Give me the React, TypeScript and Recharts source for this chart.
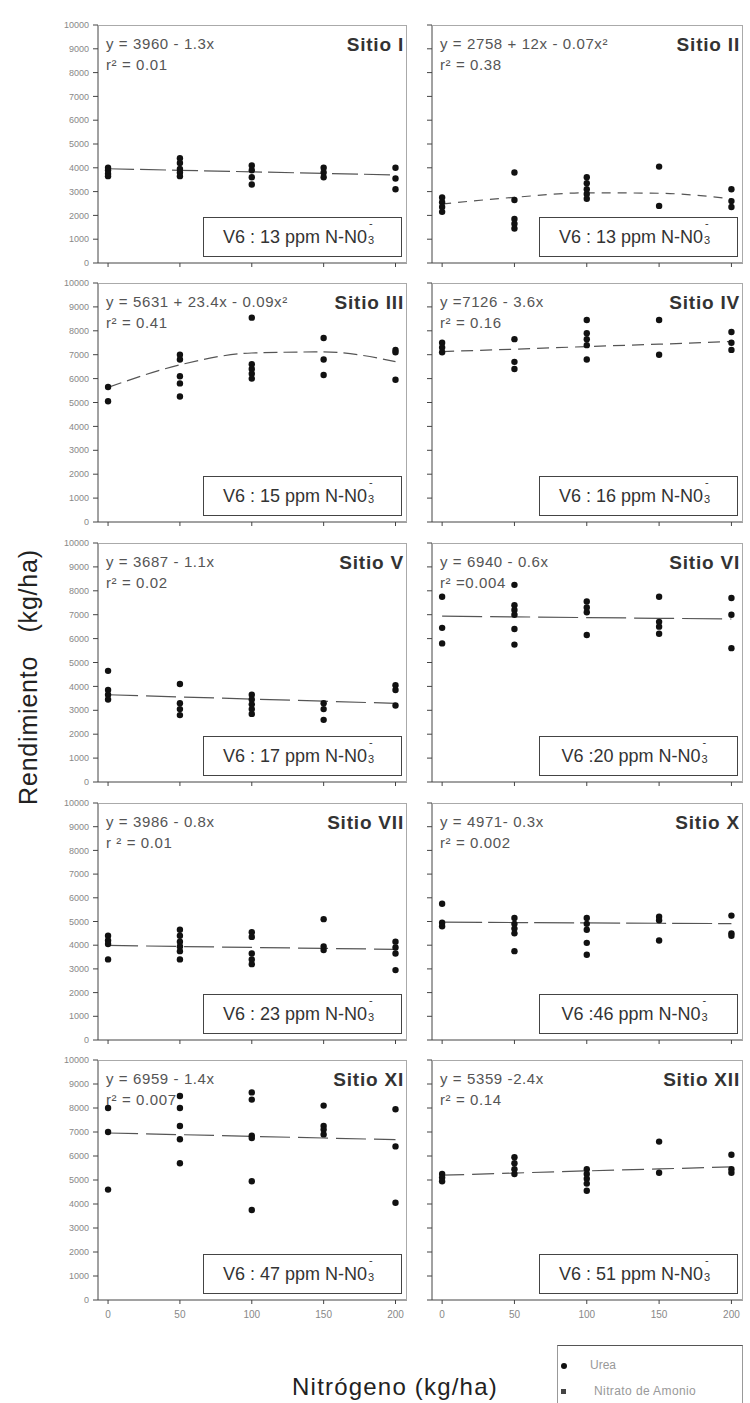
import React from 'react';
import { ComposedChart, Scatter, Line, XAxis, YAxis } from 'recharts';

const FONT = 'Arial, "Liberation Sans", Helvetica, sans-serif';

// N rates (kg/ha) and yield axis ticks
const doses = [0, 50, 100, 150, 200];
const yieldTicks = [0, 1000, 2000, 3000, 4000, 5000, 6000, 7000, 8000, 9000, 10000];

// Observed yields (kg/ha), one inner list per N rate
const sitioIYield = [
  [4000, 3900, 3750, 3650],
  [4400, 4200, 3950, 3800, 3650],
  [4100, 3900, 3600, 3300],
  [4000, 3800, 3600],
  [4000, 3550, 3100],
];
const sitioIIYield = [
  [2750, 2550, 2350, 2150],
  [3800, 2650, 1850, 1650, 1450],
  [3600, 3350, 3100, 2900, 2700],
  [4050, 2400],
  [3100, 2600, 2350],
];
const sitioIIIYield = [
  [5650, 5050],
  [7000, 6800, 6100, 5800, 5250],
  [8550, 6600, 6400, 6200, 6000],
  [7700, 6800, 6150],
  [7200, 7100, 5950],
];
const sitioIVYield = [
  [7500, 7300, 7100],
  [7650, 6700, 6400],
  [8450, 7900, 7650, 7400, 6800],
  [8450, 7000],
  [7950, 7500, 7200],
];
const sitioVYield = [
  [4650, 3850, 3650, 3450],
  [4100, 3300, 3050, 2800],
  [3650, 3450, 3250, 3050, 2850],
  [3300, 3050, 2600],
  [4050, 3850, 3200],
];
const sitioVIYield = [
  [7750, 6450, 5800],
  [8250, 7400, 7200, 7000, 6400, 5750],
  [7550, 7300, 7100, 6150],
  [7750, 6700, 6500, 6200],
  [7700, 7000, 5600],
];
const sitioVIIYield = [
  [4400, 4200, 4050, 3400],
  [4650, 4400, 4150, 3950, 3750, 3400],
  [4550, 4350, 3650, 3400, 3200],
  [5100, 3950, 3800],
  [4150, 3900, 3650, 2950],
];
const sitioXYield = [
  [5750, 4950, 4800],
  [5150, 4900, 4700, 4500, 3750],
  [5150, 4900, 4650, 4100, 3600],
  [5200, 5050, 4200],
  [5250, 4500, 4400],
];
const sitioXIYield = [
  [8000, 7000, 4600],
  [8500, 8000, 7250, 6700, 5700],
  [8650, 8350, 6850, 6750, 4950, 3750],
  [8100, 7250, 7100, 6900],
  [7950, 6400, 4050],
];
const sitioXIIYield = [
  [5250, 5100, 4950],
  [5950, 5700, 5450, 5250],
  [5450, 5250, 5050, 4850, 4550],
  [6600, 5300],
  [6050, 5450, 5300],
];

// Fitted response at each N rate
const sitioITrend = [3960, 3895, 3830, 3765, 3700];
const sitioIITrend = [2480, 2760, 2950, 2930, 2700];
const sitioIIITrend = [5631, 6576, 7071, 7116, 6711];
const sitioIVTrend = [7130, 7230, 7340, 7440, 7550];
const sitioVTrend = [3650, 3560, 3470, 3380, 3290];
const sitioVITrend = [6940, 6910, 6880, 6850, 6820];
const sitioVIITrend = [3990, 3945, 3905, 3865, 3825];
const sitioXTrend = [4971, 4956, 4941, 4926, 4911];
const sitioXITrend = [6959, 6889, 6819, 6749, 6679];
const sitioXIITrend = [5200, 5290, 5380, 5460, 5550];

const siteNames = ['Sitio I', 'Sitio II', 'Sitio III', 'Sitio IV', 'Sitio V', 'Sitio VI', 'Sitio VII', 'Sitio X', 'Sitio XI', 'Sitio XII'];
const equations = [
  'y = 3960 - 1.3x',
  'y = 2758 + 12x - 0.07x²',
  'y = 5631 + 23.4x - 0.09x²',
  'y =7126 - 3.6x',
  'y = 3687 - 1.1x',
  'y = 6940 - 0.6x',
  'y = 3986 - 0.8x',
  'y = 4971- 0.3x',
  'y = 6959 - 1.4x',
  'y = 5359 -2.4x',
];
const rSquared = ['r² = 0.01', 'r² = 0.38', 'r² = 0.41', 'r² = 0.16', 'r² = 0.02', 'r² =0.004', 'r ² = 0.01', 'r² = 0.002', 'r² = 0.007', 'r² = 0.14'];
const v6Labels = [
  'V6 : 13 ppm N-N0',
  'V6 : 13 ppm N-N0',
  'V6 : 15 ppm N-N0',
  'V6 : 16 ppm N-N0',
  'V6 : 17 ppm N-N0',
  'V6 :20 ppm N-N0',
  'V6 : 23 ppm N-N0',
  'V6 :46 ppm N-N0',
  'V6 : 47 ppm N-N0',
  'V6 : 51 ppm N-N0',
];

const yields = [sitioIYield, sitioIIYield, sitioIIIYield, sitioIVYield, sitioVYield, sitioVIYield, sitioVIIYield, sitioXYield, sitioXIYield, sitioXIIYield];
const trends = [sitioITrend, sitioIITrend, sitioIIITrend, sitioIVTrend, sitioVTrend, sitioVITrend, sitioVIITrend, sitioXTrend, sitioXITrend, sitioXIITrend];
const curved = [false, true, true, false, false, false, false, false, false, false];
const dashes = ['26 6', '9 7', '14 6', '12 7', '30 8', '40 8', '30 8', '40 6', '30 8', '22 8'];

// plot-area placement of the 2 x 5 grid
const COLS = [
  { left: 98, width: 309 },
  { left: 432, width: 311 },
];
const ROWS = [
  { top: 25, height: 238 },
  { top: 283, height: 239 },
  { top: 543, height: 239 },
  { top: 803, height: 237 },
  { top: 1060, height: 240 },
];
const YW = 50;
const MT = 6;
const MR = 4;

const Dot = (props: any) => <circle cx={props.cx} cy={props.cy} r={3.2} fill="#111" />;

// stacked "3" subscript and "-" superscript of the nitrate ion
const NitrateIon = () => (
  <span style={{ position: 'relative', display: 'inline-block', width: 9, height: 0 }}>
    <span style={{ position: 'absolute', left: 2, top: -19, fontSize: 11, lineHeight: 1 }}>-</span>
    <span style={{ position: 'absolute', left: 1, top: -2, fontSize: 11, lineHeight: 1 }}>3</span>
  </span>
);

function Panel({ idx }: { idx: number }) {
  const col = idx % 2;
  const row = Math.floor(idx / 2);
  const c = COLS[col];
  const r = ROWS[row];
  const bottom = row === 4;
  const xh = bottom ? 30 : 6;

  const points = doses.flatMap((d, i) => yields[idx][i].map((y) => ({ x: d, y })));
  const trend = doses.map((x, i) => ({ x, y: trends[idx][i] }));

  return (
    <>
      <div style={{ position: 'absolute', left: c.left - YW, top: r.top - MT }}>
        <ComposedChart
          width={YW + c.width + MR}
          height={MT + r.height + xh}
          margin={{ top: MT, right: MR, bottom: 0, left: 0 }}
        >
          <XAxis
            type="number"
            dataKey="x"
            domain={[-7, 208]}
            ticks={doses}
            allowDataOverflow
            height={xh}
            stroke="#444"
            tickSize={4}
            tickMargin={7}
            tick={{ fill: '#888', fontSize: 10, fontFamily: FONT }}
            tickFormatter={bottom ? undefined : () => ''}
          />
          <YAxis
            type="number"
            dataKey="y"
            domain={[0, 10000]}
            ticks={yieldTicks}
            interval={0}
            width={YW}
            stroke="#444"
            tickSize={5}
            tickMargin={4}
            tick={{ fill: '#888', fontSize: 9, fontFamily: FONT }}
            tickFormatter={col === 0 ? undefined : () => ''}
          />
          <Line
            data={trend}
            dataKey="y"
            type={curved[idx] ? 'monotone' : 'linear'}
            stroke="#555"
            strokeWidth={1.2}
            strokeDasharray={dashes[idx]}
            dot={false}
            isAnimationActive={false}
          />
          <Scatter data={points} shape={Dot} isAnimationActive={false} />
        </ComposedChart>
      </div>

      {/* light top/right frame */}
      <div
        style={{
          position: 'absolute',
          left: c.left,
          top: r.top,
          width: c.width,
          height: r.height,
          borderTop: '1px solid #aaa',
          borderRight: '1px solid #aaa',
          boxSizing: 'border-box',
          pointerEvents: 'none',
        }}
      />

      <div style={{ position: 'absolute', left: c.left + 8, top: r.top + 11, fontSize: 15, lineHeight: 1, color: '#555', whiteSpace: 'pre', letterSpacing: 0.6 }}>
        {equations[idx]}
      </div>
      <div style={{ position: 'absolute', left: c.left + 8, top: r.top + 32, fontSize: 15, lineHeight: 1, color: '#555', whiteSpace: 'pre', letterSpacing: 0.6 }}>
        {rSquared[idx]}
      </div>
      <div
        style={{
          position: 'absolute',
          right: 750 - (c.left + c.width - 3),
          top: r.top + 10,
          fontSize: 19,
          fontWeight: 'bold',
          lineHeight: 1,
          color: '#333',
          whiteSpace: 'pre',
          letterSpacing: 0.8,
        }}
      >
        {siteNames[idx]}
      </div>

      <div
        style={{
          position: 'absolute',
          left: c.left + c.width - 5 - 199,
          top: r.top + r.height - 6 - 40,
          width: 199,
          height: 40,
          border: '1.5px solid #444',
          boxSizing: 'border-box',
          display: 'flex',
          alignItems: 'center',
          justifyContent: 'center',
          fontSize: 18,
          color: '#333',
          whiteSpace: 'pre',
          paddingRight: 6,
        }}
      >
        {v6Labels[idx]}
        <NitrateIon />
      </div>
    </>
  );
}

export default function App() {
  return (
    <div
      style={{
        position: 'absolute',
        left: 0,
        top: 0,
        width: 750,
        height: 1403,
        background: '#fff',
        fontFamily: FONT,
        overflow: 'hidden',
      }}
    >
      {siteNames.map((_, i) => (
        <Panel key={i} idx={i} />
      ))}

      <div
        style={{
          position: 'absolute',
          left: 28,
          top: 677,
          transform: 'translate(-50%, -50%) rotate(-90deg)',
          fontSize: 25,
          color: '#222',
          whiteSpace: 'pre',
          letterSpacing: 0.8,
        }}
      >
        {'Rendimiento   (kg/ha)'}
      </div>

      <div
        style={{
          position: 'absolute',
          left: 395,
          top: 1387,
          transform: 'translate(-50%, -50%)',
          fontSize: 24,
          color: '#222',
          whiteSpace: 'pre',
          letterSpacing: 1.2,
        }}
      >
        Nitrógeno (kg/ha)
      </div>

      {/* legend */}
      <div
        style={{
          position: 'absolute',
          left: 557,
          top: 1345,
          width: 184,
          height: 70,
          borderTop: '1.5px solid #555',
          borderLeft: '1px solid #999',
          borderRight: '1px solid #999',
          fontSize: 12,
          color: '#999',
        }}
      >
        <div style={{ position: 'absolute', left: 3, top: 17, width: 6, height: 6, borderRadius: 3, background: '#111' }} />
        <div style={{ position: 'absolute', left: 32, top: 13, lineHeight: 1 }}>Urea</div>
        <div style={{ position: 'absolute', left: 3, top: 43, width: 5, height: 5, background: '#444' }} />
        <div style={{ position: 'absolute', left: 36, top: 39, lineHeight: 1, letterSpacing: 0.4 }}>Nitrato de Amonio</div>
      </div>
    </div>
  );
}
